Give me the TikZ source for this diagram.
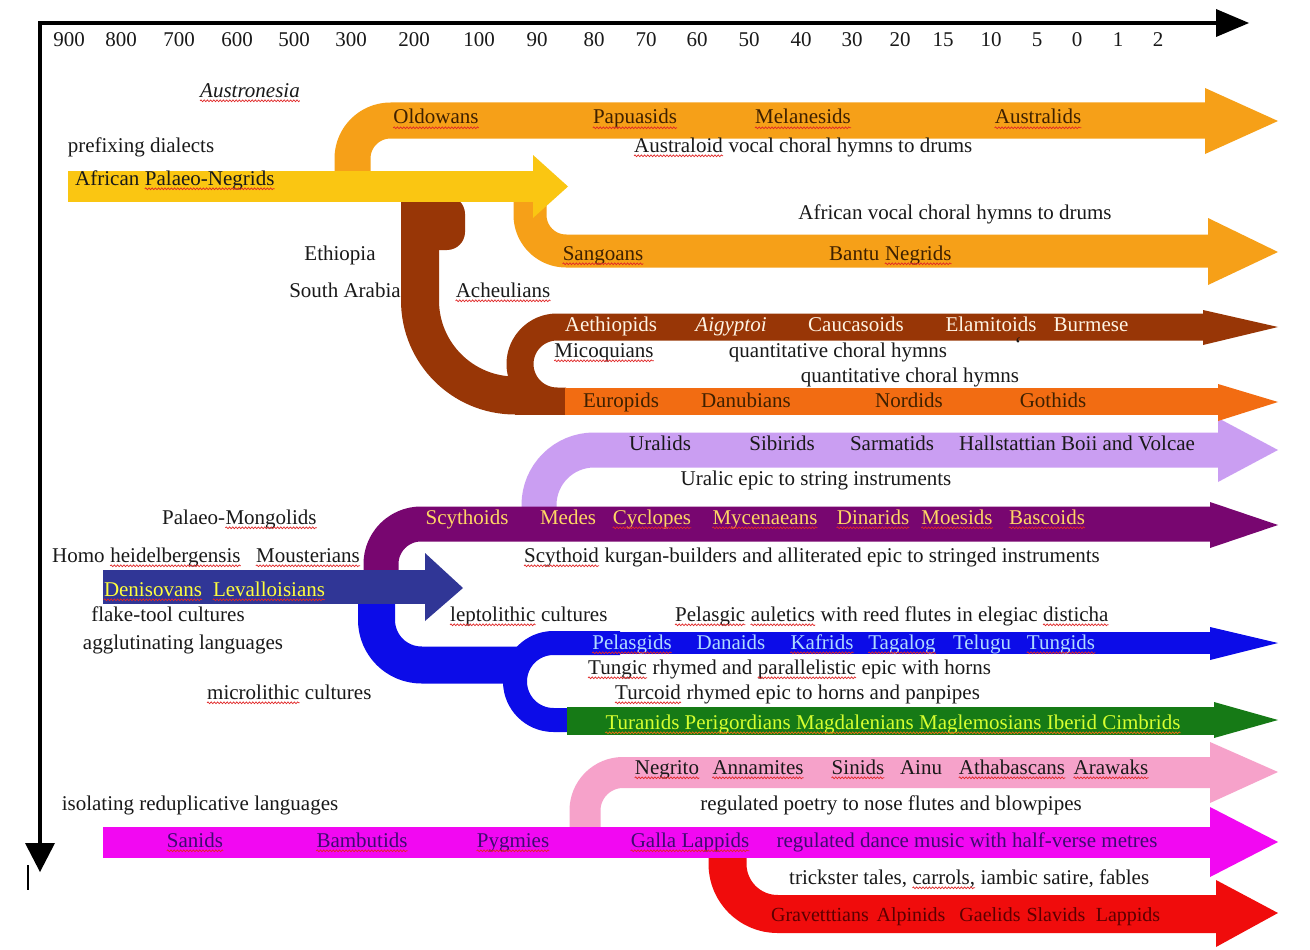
\documentclass[tikz,border=0pt]{standalone}
\usepackage{fontspec}
\setmainfont{Liberation Serif}
\usetikzlibrary{decorations.pathmorphing}
\definecolor{cYel}{RGB}{250,198,18}
\definecolor{cOra}{RGB}{246,160,24}
\definecolor{cBro}{RGB}{152,54,6}
\definecolor{cEur}{RGB}{242,108,18}
\definecolor{cLil}{RGB}{202,158,242}
\definecolor{cPur}{RGB}{120,6,112}
\definecolor{cDkb}{RGB}{48,54,150}
\definecolor{cBlu}{RGB}{12,12,232}
\definecolor{cGrn}{RGB}{22,122,22}
\definecolor{cPnk}{RGB}{246,162,202}
\definecolor{cMag}{RGB}{242,8,242}
\definecolor{cRed}{RGB}{240,12,12}
\definecolor{tBlk}{RGB}{25,25,25}
\definecolor{tOra}{RGB}{62,32,0}
\definecolor{tCrm}{RGB}{255,244,228}
\definecolor{tPur}{RGB}{255,214,100}
\definecolor{tYel}{RGB}{255,255,60}
\definecolor{tLbl}{RGB}{176,218,255}
\definecolor{tGrn}{RGB}{214,255,48}
\definecolor{tMag}{RGB}{62,12,112}
\definecolor{tRed}{RGB}{92,0,0}
\definecolor{spRed}{RGB}{225,40,40}
\definecolor{spOra}{RGB}{240,110,20}
\begin{document}
\begin{tikzpicture}[x=1pt,y=-1pt,
  lbl/.style={inner sep=0pt, anchor=base, font=\fontsize{21}{25}\selectfont, text=tBlk},
  nx/.style={lbl, anchor=base west},
  band/.style={line cap=butt, line join=round},
  axis/.style={line width=3.5pt, black, line join=miter},
  wave/.style={draw=spRed, line width=0.7pt, decorate,
    decoration={snake, amplitude=0.9pt, segment length=3.2pt}}]
\fill[white] (0,0) rectangle (1310,950);
\useasboundingbox (0,0) rectangle (1310,950);

% ---------- axes
\coordinate (Xe) at (1218,23);
\coordinate (O) at (40,23);
\coordinate (Ye) at (40,845);
\draw[axis] (Xe) -- (O) -- (Ye);
\fill[black] (1216,9) -- (1249,23) -- (1216,37) -- cycle;
\fill[black] (25,843) -- (40,872) -- (55,843) -- cycle;
\coordinate (bar1) at (28,865);
\coordinate (bar2) at (28,890);
\draw[line width=2pt] (bar1) -- (bar2);

\foreach \v/\x [count=\i] in {900/69,800/121,700/179,600/237,500/294,300/351,200/414,100/479,90/537,80/594,70/646,60/697,50/749,40/801,30/852,20/900,15/943,10/991,5/1037,0/1077,1/1118,2/1158}
  \node[lbl] (ax\i) at (\x,47) {\v};

% ---------- lilac
\draw[band, cLil, line width=35pt, rounded corners=55pt] (539,515) -- (539,450) -- (1220,450);
\fill[cLil] (1218,418) -- (1278,450) -- (1218,482) -- cycle;

% ---------- top orange
\draw[band, cOra, line width=36pt, rounded corners=38pt] (352.5,190) -- (352.5,120.5) -- (1207,120.5);
\fill[cOra] (1205,88) -- (1278,121) -- (1205,154) -- cycle;

% ---------- Sangoans orange
\draw[band, cOra, line width=33pt, rounded corners=36pt] (530,195) -- (530,251) -- (1210,251);
\fill[cOra] (1208,218) -- (1278,252) -- (1208,285) -- cycle;

% ---------- brown
\fill[cBro, rounded corners=18pt] (401,196) -- (465,196) -- (465,250) -- (421,250) -- cycle;
\draw[band, cBro, line width=38pt, rounded corners=95pt] (420,200) -- (420,395.5) -- (528,395.5);
\fill[cBro] (515,396) rectangle (566,414.5);
\draw[band, cBro, line width=27pt, rounded corners=37pt] (1205,327) -- (520,327) -- (520,401) -- (566,401);
\fill[cBro] (1203,310) -- (1278,327) -- (1203,345) -- cycle;
\draw[band, cEur, line width=27pt] (565,401) -- (1220,401);
\fill[cEur] (1218,384) -- (1278,402) -- (1218,421) -- cycle;

% ---------- yellow
\draw[band, cYel, line width=31pt] (68,186) -- (535,186);
\fill[cYel] (533,155) -- (568,186.5) -- (533,218) -- cycle;

% ---------- purple
\draw[band, cPur, line width=35pt, rounded corners=40pt] (381,578) -- (381,524) -- (1212,524);
\fill[cPur] (1210,502) -- (1278,525) -- (1210,548) -- cycle;

% ---------- blue
\draw[band, cBlu, line width=37pt, rounded corners=45pt] (376.5,590) -- (376.5,665) -- (522,665);
\draw[band, cBlu, line width=24pt, rounded corners=38.5pt] (620,643) -- (515,643) -- (515,720) -- (568,720);
\draw[band, cBlu, line width=22pt] (600,643) -- (1212,643);
\fill[cBlu] (1210,627) -- (1278,643) -- (1210,660) -- cycle;
\draw[band, cGrn, line width=28pt] (567,721) -- (1216,721);
\fill[cGrn] (1214,702) -- (1278,720) -- (1214,738) -- cycle;

% ---------- dark blue
\draw[band, cDkb, line width=34pt] (103,587) -- (427,587);
\fill[cDkb] (425,553) -- (463,588) -- (425,621) -- cycle;

% ---------- pink, red, magenta
\draw[band, cPnk, line width=31pt, rounded corners=38pt] (585,830) -- (585,772.5) -- (1212,772.5);
\fill[cPnk] (1210,742) -- (1278,772) -- (1210,803) -- cycle;
\draw[band, cRed, line width=38pt, rounded corners=50pt] (727.5,845) -- (727.5,914) -- (1218,914);
\fill[cRed] (1216,880) -- (1278,913) -- (1216,947) -- cycle;
\draw[band, cMag, line width=31pt] (103,842) -- (1212,842);
\fill[cMag] (1210,807) -- (1278,842) -- (1210,877) -- cycle;

% ---------- texts
\node[lbl] (austro) at (250,97) {\itshape Austronesia};
\node[lbl] (prefix) at (141,152) {prefixing dialects};
\node[nx] (apn1) at (75,185) {African};
\node[nx] (apn2) at ([xshift=5.25pt]apn1.base east) {Palaeo-Negrids};
\node[lbl,text=tOra] (oldo) at (436,124) {Oldowans};
\node[lbl,text=tOra] (papu) at (635,124) {Papuasids};
\node[lbl,text=tOra] (mela) at (803,124) {Melanesids};
\node[lbl,text=tOra] (austl) at (1038,124) {Australids};
\node[nx] (avc1) at (634,152) {Australoid};
\node[nx] (avc2) at ([xshift=5.25pt]avc1.base east) {vocal choral hymns to drums};
\node[lbl] (afvc) at (955,219) {African vocal choral hymns to drums};
\node[lbl] (ethi) at (340,260) {Ethiopia};
\node[lbl] (sara) at (345,297) {South Arabia};
\node[lbl,text=tOra] (sang) at (603,260) {Sangoans};
\node[nx,text=tOra] (bantu1) at (829,260) {Bantu};
\node[nx,text=tOra] (bantu2) at ([xshift=5.25pt]bantu1.base east) {Negrids};
\node[lbl] (ache) at (503,297) {Acheulians};
\node[lbl,text=tCrm] (aeth) at (611,331) {Aethiopids};
\node[lbl,text=tCrm] (aigy) at (731,331) {\itshape Aigyptoi};
\node[lbl,text=tCrm] (cauc) at (856,331) {Caucasoids};
\node[lbl,text=tCrm] (elam) at (991,331) {Elamitoids};
\node[lbl,text=tCrm] (burm) at (1091,331) {Burmese};
\node[lbl] (mico) at (604,357) {Micoquians};
\node[lbl] (qch1) at (838,357) {quantitative choral hymns};
\node[lbl] (tick) at (1018,351) {`};
\node[lbl] (qch2) at (910,382) {quantitative choral hymns};
\node[lbl,text=tOra] (euro) at (621,407) {Europids};
\node[lbl,text=tOra] (danu) at (746,407) {Danubians};
\node[lbl,text=tOra] (nord) at (909,407) {Nordids};
\node[lbl,text=tOra] (goth) at (1053,407) {Gothids};
\node[lbl] (ural) at (660,450) {Uralids};
\node[lbl] (sibi) at (782,450) {Sibirids};
\node[lbl] (sarm) at (892,450) {Sarmatids};
\node[lbl] (hall) at (1077,450) {Hallstattian Boii and Volcae};
\node[lbl] (urep) at (816,485) {Uralic epic to string instruments};
\node[nx] (pm1) at (162,524) {Palaeo-};
\node[nx] (pm2) at (pm1.base east) {Mongolids};
\node[lbl,text=tPur] (scy) at (467,524) {Scythoids};
\node[lbl,text=tPur] (med) at (568,524) {Medes};
\node[lbl,text=tPur] (cyc) at (652,524) {Cyclopes};
\node[lbl,text=tPur] (myc) at (765,524) {Mycenaeans};
\node[lbl,text=tPur] (dina) at (873,524) {Dinarids};
\node[lbl,text=tPur] (moes) at (957,524) {Moesids};
\node[lbl,text=tPur] (basc) at (1047,524) {Bascoids};
\node[nx] (homo1) at (52,562) {Homo};
\node[nx] (homo2) at ([xshift=5.25pt]homo1.base east) {heidelbergensis};
\node[lbl] (mous) at (308,562) {Mousterians};
\node[nx] (sk1) at (524,562) {Scythoid};
\node[nx] (sk2) at ([xshift=5.25pt]sk1.base east) {kurgan-builders and alliterated epic to stringed instruments};
\node[lbl,text=tYel] (deni) at (153,596) {Denisovans};
\node[lbl,text=tYel] (leva) at (269,596) {Levalloisians};
\node[lbl] (flak) at (168,621) {flake-tool cultures};
\node[nx] (lep1) at (450,621) {leptolithic};
\node[nx] (lep2) at ([xshift=5.25pt]lep1.base east) {cultures};
\node[nx] (pel1) at (675,621) {Pelasgic};
\node[nx] (pel2) at ([xshift=5.25pt]pel1.base east) {auletics};
\node[nx] (pel3) at ([xshift=5.25pt]pel2.base east) {with reed flutes in elegiac};
\node[nx] (pel4) at ([xshift=5.25pt]pel3.base east) {disticha};
\node[lbl] (aggl) at (183,649) {agglutinating languages};
\node[lbl,text=tLbl] (pelg) at (632,649) {Pelasgids};
\node[lbl,text=tLbl] (dana) at (731,649) {Danaids};
\node[lbl,text=tLbl] (kafr) at (822,649) {Kafrids};
\node[lbl,text=tLbl] (taga) at (902,649) {Tagalog};
\node[lbl,text=tLbl] (telu) at (982,649) {Telugu};
\node[lbl,text=tLbl] (tung) at (1061,649) {Tungids};
\node[nx] (tu1) at (588,674) {Tungic};
\node[nx] (tu2) at ([xshift=5.25pt]tu1.base east) {rhymed and};
\node[nx] (tu3) at ([xshift=5.25pt]tu2.base east) {parallelistic};
\node[nx] (tu4) at ([xshift=5.25pt]tu3.base east) {epic with horns};
\node[nx] (mic1) at (207,699) {microlithic};
\node[nx] (mic2) at ([xshift=5.25pt]mic1.base east) {cultures};
\node[nx] (tc1) at (615,699) {Turcoid};
\node[nx] (tc2) at ([xshift=5.25pt]tc1.base east) {rhymed epic to horns and panpipes};
\node[lbl,text=tGrn] (tura) at (893,729) {Turanids Perigordians Magdalenians Maglemosians Iberid Cimbrids};
\node[lbl] (negr) at (667,774) {Negrito};
\node[lbl] (anna) at (758,774) {Annamites};
\node[lbl] (sini) at (858,774) {Sinids};
\node[lbl] (ainu) at (921,774) {Ainu};
\node[lbl] (atha) at (1012,774) {Athabascans};
\node[lbl] (araw) at (1111,774) {Arawaks};
\node[lbl] (isol) at (200,810) {isolating reduplicative languages};
\node[lbl] (regp) at (891,810) {regulated poetry to nose flutes and blowpipes};
\node[lbl,text=tMag] (sani) at (195,847) {Sanids};
\node[lbl,text=tMag] (bamb) at (362,847) {Bambutids};
\node[lbl,text=tMag] (pygm) at (513,847) {Pygmies};
\node[lbl,text=tMag] (gall) at (690,847) {Galla Lappids};
\node[lbl,text=tMag] (regd) at (967,847) {regulated dance music with half-verse metres};
\node[nx] (tr1) at (789,884) {trickster tales,};
\node[nx] (tr2) at ([xshift=5.25pt]tr1.base east) {carrols,};
\node[nx] (tr3) at ([xshift=5.25pt]tr2.base east) {iambic satire, fables};
\node[lbl,text=tRed,font=\fontsize{20}{24}\selectfont] (grav) at (820,921) {Gravetttians};
\node[lbl,text=tRed,font=\fontsize{20}{24}\selectfont] (alpi) at (911,921) {Alpinids};
\node[lbl,text=tRed,font=\fontsize{20}{24}\selectfont] (gael) at (990,921) {Gaelids};
\node[lbl,text=tRed,font=\fontsize{20}{24}\selectfont] (slav) at (1056,921) {Slavids};
\node[lbl,text=tRed,font=\fontsize{20}{24}\selectfont] (lapp) at (1128,921) {Lappids};

% ---------- spell-check wavy underlines
\foreach \n in {austro,apn2,oldo,papu,mela,austl,avc1,sang,bantu2,ache,mico,pm2,homo2,mous,sk1,
  lep1,pel1,pel2,pel4,tu1,tu3,mic1,tc1,negr,anna,sini,atha,araw,sani,bamb,pygm,gall,tr2,
  deni,leva,pelg,kafr,taga,tung,cyc,myc,dina,moes,basc}
  \draw[wave] ([yshift=-3.8pt]\n.base west) -- ([yshift=-3.8pt]\n.base east);
\draw[wave,draw=spOra] ([yshift=-3.8pt]tura.base west) -- ([yshift=-3.8pt]tura.base east);
\end{tikzpicture}
\end{document}
